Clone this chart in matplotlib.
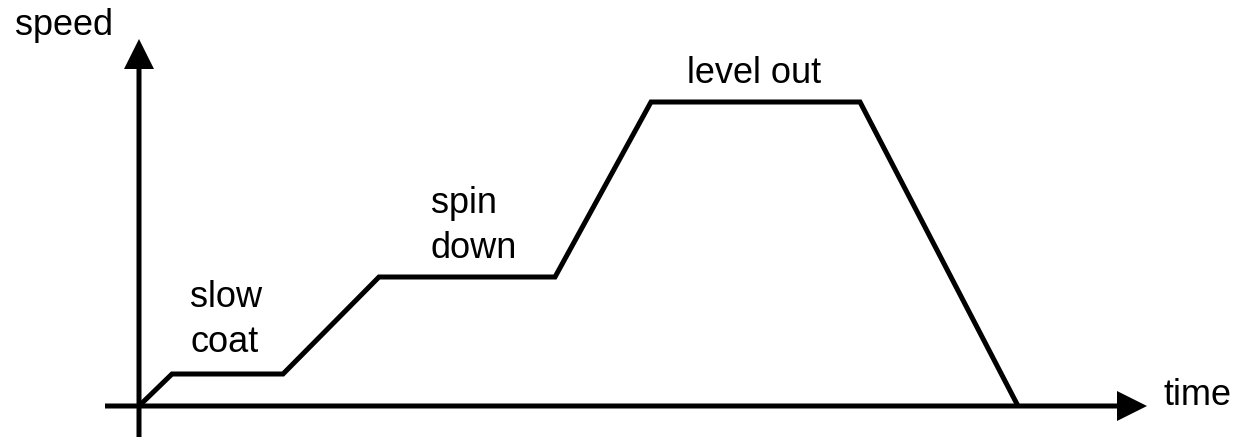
import matplotlib
matplotlib.use('Agg')
import matplotlib.pyplot as plt

plt.rcParams['font.family'] = ['Liberation Sans', 'DejaVu Sans']

# spin profile corners (time, speed), origin at the axis crossing
time = [0, 33, 144, 240, 416, 512, 721, 879]
speed = [0, 32, 32, 129, 129, 304, 304, 0]

# phase labels: (text lines, left x, first baseline y)
labels = [
    (['slow', 'coat'], 51, 100),
    (['spin', 'down'], 292, 194),
    (['level out'], 548, 324),
]
line_gap = 45

fig = plt.figure(figsize=(12.39, 4.39), dpi=100)
ax = fig.add_axes([0, 0, 1, 1])
ax.set_xlim(-139, 1100)
ax.set_ylim(-32, 407)
ax.axis('off')

# axes with arrow heads
ax.arrow(0, -31, 0, 398, width=5, head_width=30, head_length=30,
         length_includes_head=True, color='black', lw=0)
ax.arrow(-34, 0, 1042, 0, width=5, head_width=30, head_length=30,
         length_includes_head=True, color='black', lw=0)

ax.plot(time, speed, color='black', lw=3.6, solid_joinstyle='miter',
        solid_capstyle='butt')

ax.text(-124, 372, 'speed', fontsize=26, ha='left', va='baseline')
ax.text(1024, 2, 'time', fontsize=26, ha='left', va='baseline')

for lines, lx, ly in labels:
    for i, s in enumerate(lines):
        ax.text(lx, ly - i * line_gap, s, fontsize=26, ha='left', va='baseline')

fig.savefig('out.png', dpi=100)
